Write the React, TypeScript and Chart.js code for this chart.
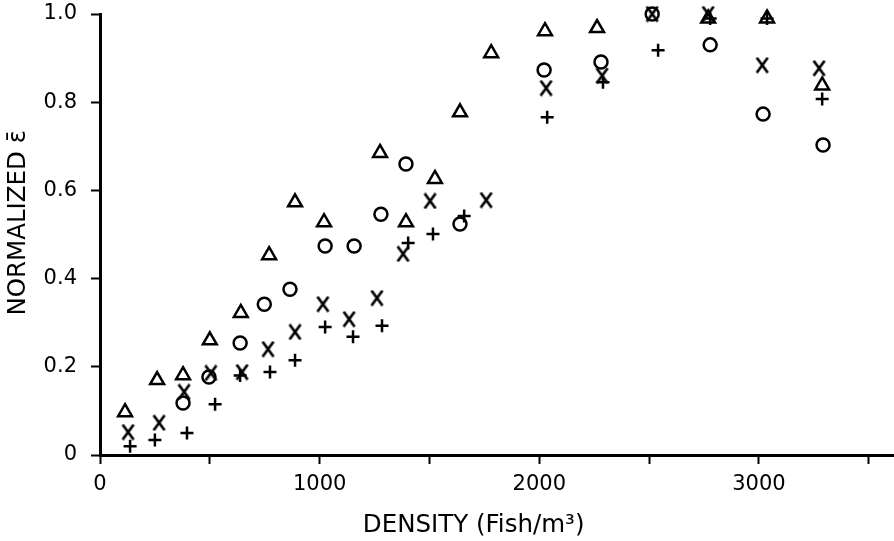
import React, { useEffect, useRef } from "react";
import { Chart, registerables } from "chart.js";

Chart.register(...registerables);

// Δ series
const triangleX = [114, 260, 378, 500, 641, 770, 888, 1020, 1275, 1393, 1525, 1639, 1781, 2026, 2263, 2769, 3037, 3288];
const triangleY = [0.097, 0.17, 0.181, 0.26, 0.322, 0.453, 0.573, 0.528, 0.685, 0.528, 0.626, 0.777, 0.911, 0.961, 0.968, 0.99, 0.99, 0.838];
// ○ series
const circleX = [378, 496, 638, 748, 865, 1025, 1157, 1279, 1393, 1639, 2022, 2281, 2514, 2778, 3019, 3292];
const circleY = [0.118, 0.177, 0.254, 0.342, 0.376, 0.474, 0.474, 0.546, 0.66, 0.524, 0.873, 0.891, 1.0, 0.93, 0.773, 0.703];
// X series
const crossX = [128, 269, 383, 505, 647, 765, 888, 1015, 1134, 1261, 1380, 1503, 1758, 2031, 2286, 2514, 2769, 3015, 3274];
const crossY = [0.052, 0.073, 0.143, 0.186, 0.188, 0.24, 0.279, 0.342, 0.308, 0.356, 0.456, 0.576, 0.578, 0.832, 0.86, 1.0, 1.0, 0.884, 0.877];
// + series
const plusX = [137, 250, 396, 524, 638, 774, 888, 1025, 1152, 1284, 1403, 1516, 1658, 2036, 2290, 2541, 2778, 3037, 3288];
const plusY = [0.02, 0.034, 0.05, 0.115, 0.18, 0.188, 0.215, 0.29, 0.268, 0.293, 0.481, 0.501, 0.542, 0.766, 0.845, 0.918, 0.99, 0.99, 0.807];

const xTitle = "DENSITY (Fish/m³)";
const yTitle = "NORMALIZED ε̄";
const xMin = 0;
const xMax = 3615;
const xStep = 500;
const xLabelStep = 1000;
const yMin = 0;
const yMax = 1.0;
const yStep = 0.2;

const toPoints = (xs: number[], ys: number[]) => xs.map((x, i) => ({ x, y: ys[i] }));

function makeXMarker(): HTMLCanvasElement {
  const c = document.createElement("canvas");
  c.width = 15;
  c.height = 17;
  const ctx = c.getContext("2d")!;
  ctx.strokeStyle = "#000";
  ctx.lineWidth = 2.7;
  ctx.lineCap = "butt";
  ctx.beginPath();
  ctx.moveTo(2, 1);
  ctx.lineTo(13, 16);
  ctx.moveTo(13, 1);
  ctx.lineTo(2, 16);
  ctx.stroke();
  return c;
}

export default function App() {
  const ref = useRef<HTMLCanvasElement | null>(null);
  useEffect(() => {
    if (!ref.current) return;
    const font = "'DejaVu Sans', sans-serif";
    const chart = new Chart(ref.current, {
      type: "scatter",
      data: {
        datasets: [
          {
            data: toPoints(triangleX, triangleY),
            pointStyle: "triangle",
            pointRadius: 8,
            pointBorderWidth: 2.5,
            pointBorderColor: "#000",
            pointBackgroundColor: "rgba(0,0,0,0)",
            clip: false,
          },
          {
            data: toPoints(circleX, circleY),
            pointStyle: "circle",
            pointRadius: 6.5,
            pointBorderWidth: 2.5,
            pointBorderColor: "#000",
            pointBackgroundColor: "rgba(0,0,0,0)",
            clip: false,
          },
          {
            data: toPoints(crossX, crossY),
            pointStyle: makeXMarker(),
            pointRadius: 8,
            clip: false,
          },
          {
            data: toPoints(plusX, plusY),
            pointStyle: "cross",
            pointRadius: 6.5,
            pointBorderWidth: 2.5,
            pointBorderColor: "#000",
            clip: false,
          },
        ],
      },
      options: {
        responsive: false,
        animation: false,
        devicePixelRatio: 1,
        events: [],
        layout: { autoPadding: false, padding: { top: 14, right: 0, left: 0, bottom: 0 } },
        plugins: { legend: { display: false }, tooltip: { enabled: false } },
        scales: {
          x: {
            type: "linear",
            min: xMin,
            max: xMax,
            afterBuildTicks: (s: any) => {
              const t = [];
              for (let v = xMin; v <= xMax; v += xStep) t.push({ value: v });
              s.ticks = t;
            },
            afterFit: (s: any) => {
              s.height = 86;
              s.paddingLeft = 0;
              s.paddingRight = 0;
            },
            border: { color: "#000", width: 3 },
            grid: { drawOnChartArea: false, color: "#000", tickLength: 9, tickWidth: 2 },
            ticks: {
              color: "#000",
              font: { family: font, size: 21 },
              padding: 8,
              maxRotation: 0,
              autoSkip: false,
              callback: (v: any) => (Number(v) % xLabelStep === 0 ? String(v) : ""),
            },
            title: {
              display: true,
              text: xTitle + "      ",
              color: "#000",
              font: { family: font, size: 24.5 },
              padding: { top: 0, bottom: 1 },
            },
          },
          y: {
            type: "linear",
            min: yMin,
            max: yMax,
            afterFit: (s: any) => {
              s.width = 100;
              s.paddingTop = 0;
              s.paddingBottom = 0;
            },
            border: { color: "#000", width: 3 },
            grid: { drawOnChartArea: false, color: "#000", tickLength: 9, tickWidth: 2 },
            ticks: {
              color: "#000",
              stepSize: yStep,
              font: { family: font, size: 21 },
              padding: 14,
              callback: (v: any) => (Number(v) === 0 ? "0" : Number(v).toFixed(1)),
            },
            title: {
              display: true,
              text: "   " + yTitle,
              color: "#000",
              font: { family: font, size: 24.5 },
              padding: { top: 4, bottom: 0 },
            },
          },
        },
      },
    } as any);
    return () => chart.destroy();
  }, []);
  return (
    <div style={{ position: "fixed", left: 0, top: 0, width: 894, height: 541, background: "#fff" }}>
      <canvas ref={ref} width={894} height={541} style={{ width: 894, height: 541 }} />
    </div>
  );
}
